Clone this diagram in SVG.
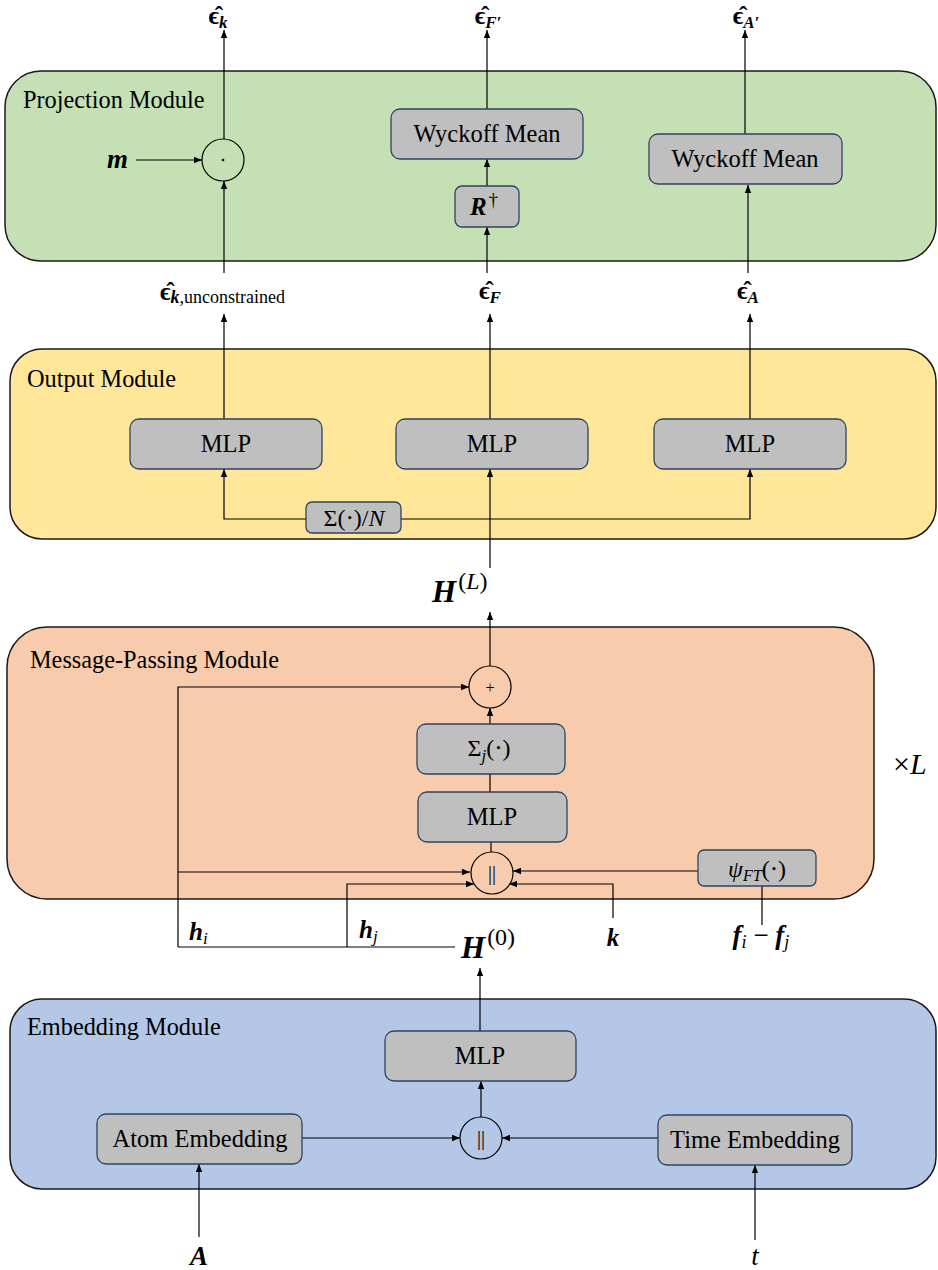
<svg xmlns="http://www.w3.org/2000/svg" width="938" height="1270" viewBox="0 0 938 1270">
<style>
.mod{stroke:#1a1a1a;stroke-width:1.5}
.box{fill:#bfbfbf;stroke:#2e4460;stroke-width:1.3}
.t{font-family:"Liberation Serif","DejaVu Serif",serif;font-size:24.5px;fill:#000}
.mt{font-family:"Liberation Serif","DejaVu Serif",serif;font-size:24.3px;fill:#000}
.c{stroke:#000;stroke-width:1.2;fill:none}
.op{fill:none;stroke:#000;stroke-width:1.2}
.bi{font-family:"Liberation Serif","DejaVu Serif",serif;font-weight:bold;font-style:italic;fill:#000}
.b{font-family:"Liberation Serif","DejaVu Serif",serif;font-weight:bold;fill:#000}
.it{font-family:"Liberation Serif","DejaVu Serif",serif;font-style:italic;fill:#000}
.r{font-family:"Liberation Serif","DejaVu Serif",serif;fill:#000}
</style>
<defs>
<marker id="ah" viewBox="0 0 10 10" refX="10" refY="5" markerWidth="8" markerHeight="8" markerUnits="userSpaceOnUse" orient="auto"><path d="M0,1 L10,5 L0,9 z" fill="#000"/></marker>
</defs>

<g id="projection-module">
<rect class="mod" x="5" y="71" width="931" height="190" rx="36" fill="#c5e0b4"/>
<text class="mt" x="23" y="108">Projection Module</text>
</g>
<g id="output-module">
<rect class="mod" x="10" y="349" width="926" height="190" rx="32" fill="#ffe699"/>
<text class="mt" x="27" y="387">Output Module</text>
</g>
<g id="message-passing-module">
<rect class="mod" x="7" y="627" width="867" height="272" rx="40" fill="#f8cbad"/>
<text class="mt" x="30" y="668">Message-Passing Module</text>
</g>
<g id="embedding-module">
<rect class="mod" x="10" y="999" width="926" height="190" rx="32" fill="#b4c7e7"/>
<text class="mt" x="27" y="1035">Embedding Module</text>
</g>

<g id="connectors" class="c">
<path d="M224,139 L224,30" marker-end="url(#ah)"/>
<path d="M136,160 L202,160" marker-end="url(#ah)"/>
<path d="M224,273 L224,181" marker-end="url(#ah)"/>
<path d="M487,109 L487,30" marker-end="url(#ah)"/>
<path d="M487,186 L487,159" marker-end="url(#ah)"/>
<path d="M487,273 L487,227" marker-end="url(#ah)"/>
<path d="M745,134 L745,30" marker-end="url(#ah)"/>
<path d="M748,273 L748,185" marker-end="url(#ah)"/>
<path d="M224,419 L224,314" marker-end="url(#ah)"/>
<path d="M490,419 L490,314" marker-end="url(#ah)"/>
<path d="M750,419 L750,314" marker-end="url(#ah)"/>
<path d="M306,519 L224,519 L224,469" marker-end="url(#ah)"/>
<path d="M401,519 L750,519 L750,469" marker-end="url(#ah)"/>
<path d="M490,568 L490,469" marker-end="url(#ah)"/>
<path d="M490,666 L490,612" marker-end="url(#ah)"/>
<path d="M490,724 L490,708" marker-end="url(#ah)"/>
<path d="M490,792 L490,774"/>
<path d="M491,852 L491,842"/>
<path d="M178,947 L178,687 L469,687" marker-end="url(#ah)"/>
<path d="M178,872 L470,872" marker-end="url(#ah)"/>
<path d="M178,947 L455,947"/>
<path d="M347,947 L347,884 L474,884" marker-end="url(#ah)"/>
<path d="M613,918 L613,884 L509,884" marker-end="url(#ah)"/>
<path d="M698,871 L513,871" marker-end="url(#ah)"/>
<path d="M762,886 L762,925"/>
<path d="M480,1031 L480,968" marker-end="url(#ah)"/>
<path d="M302,1138 L460,1138" marker-end="url(#ah)"/>
<path d="M658,1138 L502,1138" marker-end="url(#ah)"/>
<path d="M481,1117 L481,1081" marker-end="url(#ah)"/>
<path d="M199,1237 L199,1164" marker-end="url(#ah)"/>
<path d="M755,1240 L755,1165" marker-end="url(#ah)"/>
</g>

<g id="out-eps-k"><text class="b" x="218" y="24" font-size="25" text-anchor="middle">ϵ̂<tspan class="bi" font-size="17" dy="4">k</tspan></text></g>
<g id="out-eps-F"><text class="b" x="488" y="24" font-size="25" text-anchor="middle">ϵ̂<tspan class="bi" font-size="17" dy="4">F′</tspan></text></g>
<g id="out-eps-A"><text class="b" x="746" y="24" font-size="25" text-anchor="middle">ϵ̂<tspan class="bi" font-size="17" dy="4">A′</tspan></text></g>

<g id="dot-op"><circle class="op" cx="223" cy="160" r="21"/><circle cx="223" cy="160" r="1.3" fill="#000"/></g>
<g id="m-input"><text class="bi" x="107" y="168" font-size="27">m</text></g>
<g id="wyckoff-mean-1"><rect class="box" x="391" y="109" width="192" height="50" rx="9"/><text class="t" x="487" y="142" text-anchor="middle">Wyckoff Mean</text></g>
<g id="r-dagger"><rect class="box" x="455" y="186" width="64" height="41" rx="7"/><text class="bi" x="484" y="215" font-size="25" text-anchor="middle">R<tspan class="r" font-weight="normal" font-style="normal" font-size="19" dx="2" dy="-9">†</tspan></text></g>
<g id="wyckoff-mean-2"><rect class="box" x="649" y="134" width="193" height="50" rx="9"/><text class="t" x="745" y="167" text-anchor="middle">Wyckoff Mean</text></g>

<g id="eps-k-unconstrained"><text class="b" x="160" y="300" font-size="25">ϵ̂<tspan class="bi" font-size="18" dy="3">k</tspan><tspan class="r" font-weight="normal" font-size="18">,unconstrained</tspan></text></g>
<g id="eps-F"><text class="b" x="490" y="299" font-size="25" text-anchor="middle">ϵ̂<tspan class="bi" font-size="17" dy="4">F</tspan></text></g>
<g id="eps-A"><text class="b" x="748" y="299" font-size="25" text-anchor="middle">ϵ̂<tspan class="bi" font-size="17" dy="4">A</tspan></text></g>

<g id="mlp-out-1"><rect class="box" x="130" y="419" width="192" height="50" rx="9"/><text class="t" x="226" y="452" text-anchor="middle">MLP</text></g>
<g id="mlp-out-2"><rect class="box" x="396" y="419" width="192" height="50" rx="9"/><text class="t" x="492" y="452" text-anchor="middle">MLP</text></g>
<g id="mlp-out-3"><rect class="box" x="654" y="419" width="192" height="50" rx="9"/><text class="t" x="750" y="452" text-anchor="middle">MLP</text></g>
<g id="mean-pool"><rect class="box" x="306" y="502" width="95" height="31" rx="6"/><text class="r" x="354" y="526" font-size="24" text-anchor="middle">Σ(⋅)/<tspan class="it">N</tspan></text></g>

<g id="H-L"><text class="bi" x="432" y="602" font-size="31">H<tspan class="r" font-weight="normal" font-style="normal" font-size="24" dx="2" dy="-13">(<tspan class="it">L</tspan>)</tspan></text></g>

<g id="plus-op"><circle class="op" cx="490" cy="687" r="21"/><text class="r" x="490" y="693" font-size="16" text-anchor="middle">+</text></g>
<g id="sum-j"><rect class="box" x="417" y="724" width="148" height="50" rx="9"/><text class="r" x="489" y="756" font-size="24" text-anchor="middle">Σ<tspan class="it" font-size="17" dy="5">j</tspan><tspan dy="-5">(⋅)</tspan></text></g>
<g id="mlp-mp"><rect class="box" x="418" y="792" width="149" height="50" rx="9"/><text class="t" x="492" y="825" text-anchor="middle">MLP</text></g>
<g id="concat-mp"><circle class="op" cx="492" cy="873" r="21"/><text class="r" x="492" y="880" font-size="20" text-anchor="middle" fill="#333">||</text></g>
<g id="psi-ft"><rect class="box" x="698" y="850" width="118" height="36" rx="6"/><text class="it" x="757" y="877" font-size="24" text-anchor="middle">ψ<tspan font-size="16" dy="4">FT</tspan><tspan class="r" font-style="normal" dy="-4">(⋅)</tspan></text></g>
<g id="times-L"><text class="r" x="893" y="774" font-size="30">×<tspan class="it">L</tspan></text></g>

<g id="h-i"><text class="bi" x="189" y="940" font-size="25">h<tspan class="it" font-weight="normal" font-size="17" dy="4">i</tspan></text></g>
<g id="h-j"><text class="bi" x="359" y="938" font-size="25">h<tspan class="it" font-weight="normal" font-size="17" dy="4">j</tspan></text></g>
<g id="H-0"><text class="bi" x="461" y="958" font-size="31">H<tspan class="r" font-weight="normal" font-style="normal" font-size="24" dx="2" dy="-13">(0)</tspan></text></g>
<g id="k-input"><text class="bi" x="613" y="946" font-size="25" text-anchor="middle">k</text></g>
<g id="f-diff"><text class="bi" x="761" y="944" font-size="27" text-anchor="middle">f<tspan class="it" font-weight="normal" font-size="18" dy="4">i</tspan><tspan class="r" font-weight="normal" font-style="normal" dy="-4"> − </tspan>f<tspan class="it" font-weight="normal" font-size="18" dy="4">j</tspan></text></g>

<g id="mlp-emb"><rect class="box" x="385" y="1031" width="191" height="50" rx="9"/><text class="t" x="480" y="1064" text-anchor="middle">MLP</text></g>
<g id="atom-embedding"><rect class="box" x="97" y="1114" width="205" height="50" rx="9"/><text class="t" x="200" y="1147" text-anchor="middle">Atom Embedding</text></g>
<g id="concat-emb"><circle class="op" cx="481" cy="1138" r="21"/><text class="r" x="481" y="1145" font-size="20" text-anchor="middle" fill="#333">||</text></g>
<g id="time-embedding"><rect class="box" x="658" y="1115" width="194" height="50" rx="9"/><text class="t" x="755" y="1148" text-anchor="middle">Time Embedding</text></g>
<g id="A-input"><text class="bi" x="199" y="1265" font-size="27" text-anchor="middle">A</text></g>
<g id="t-input"><text class="it" x="755" y="1265" font-size="27" text-anchor="middle">t</text></g>
</svg>
